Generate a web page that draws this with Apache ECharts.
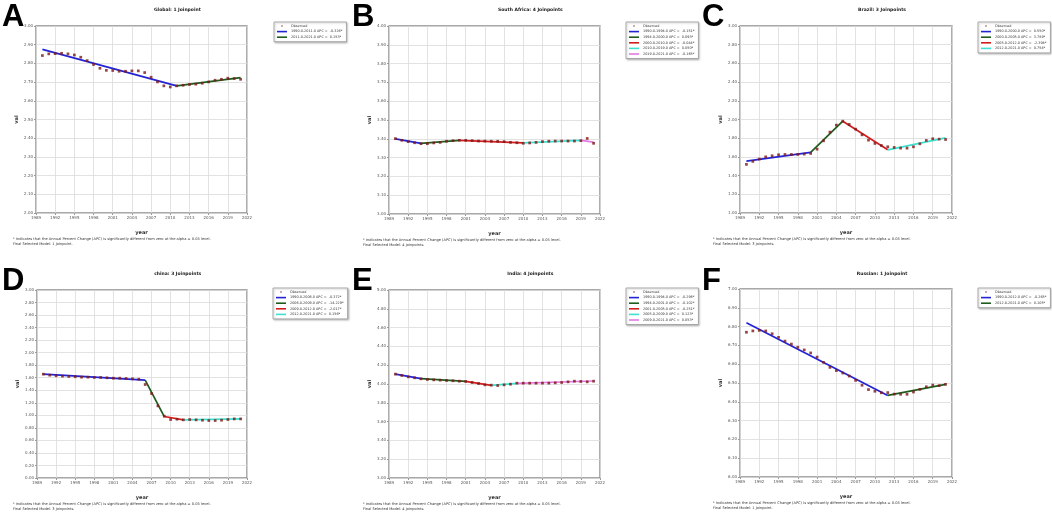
<!DOCTYPE html>
<html>
<head>
<meta charset="utf-8">
<script src="https://cdn.jsdelivr.net/npm/echarts@6/dist/echarts.min.js"></script>
<style>
  html, body { margin: 0; padding: 0; background: #fff; }
  #chart { width: 1052px; height: 519px; }
</style>
</head>
<body>
<div id="chart"></div>
<script>
// observed years, shared by all six panels
const years = [1990, 1991, 1992, 1993, 1994, 1995, 1996, 1997, 1998, 1999, 2000,
  2001, 2002, 2003, 2004, 2005, 2006, 2007, 2008, 2009, 2010,
  2011, 2012, 2013, 2014, 2015, 2016, 2017, 2018, 2019, 2020, 2021];

// A — Global
const globalObs = [2.842, 2.851, 2.852, 2.854, 2.851, 2.845, 2.833, 2.815, 2.794, 2.774, 2.763,
  2.762, 2.758, 2.758, 2.760, 2.760, 2.751, 2.726, 2.701, 2.680, 2.674,
  2.680, 2.683, 2.687, 2.689, 2.694, 2.701, 2.710, 2.715, 2.721, 2.719, 2.715];
const globalJoins = [1990, 2011, 2021];
const globalFit = [2.875, 2.680, 2.724];
const globalApc = ['-0.326*', '0.153*'];

// B — South Africa
const southAfricaObs = [3.401, 3.392, 3.385, 3.379, 3.374, 3.374, 3.378, 3.381, 3.387, 3.390, 3.392,
  3.392, 3.390, 3.388, 3.388, 3.387, 3.387, 3.385, 3.381, 3.379, 3.376,
  3.378, 3.381, 3.385, 3.387, 3.388, 3.388, 3.388, 3.388, 3.390, 3.402, 3.376];
const southAfricaJoins = [1990, 1994, 2000, 2010, 2019, 2021];
const southAfricaFit = [3.400, 3.376, 3.392, 3.378, 3.392, 3.382];
const southAfricaApc = ['-0.151*', '0.093*', '-0.044*', '0.050*', '-0.165*'];

// C — Brazil
const brazilObs = [1.520, 1.552, 1.577, 1.601, 1.612, 1.623, 1.626, 1.626, 1.626, 1.630, 1.637,
  1.683, 1.772, 1.865, 1.940, 1.982, 1.947, 1.897, 1.836, 1.779, 1.744,
  1.722, 1.708, 1.701, 1.694, 1.694, 1.708, 1.740, 1.776, 1.794, 1.790, 1.786];
const brazilJoins = [1990, 2000, 2005, 2012, 2021];
const brazilFit = [1.555, 1.648, 1.982, 1.676, 1.804];
const brazilApc = ['0.550*', '3.789*', '-2.394*', '0.754*'];

// D — China
const chinaObs = [1.657, 1.641, 1.631, 1.625, 1.620, 1.615, 1.609, 1.609, 1.604, 1.604, 1.599,
  1.593, 1.593, 1.588, 1.583, 1.577, 1.492, 1.348, 1.151, 0.986, 0.933,
  0.938, 0.928, 0.933, 0.928, 0.922, 0.917, 0.917, 0.922, 0.933, 0.943, 0.943];
const chinaJoins = [1990, 2006, 2009, 2012, 2021];
const chinaFit = [1.657, 1.562, 0.981, 0.928, 0.942];
const chinaApc = ['-0.372*', '-14.229*', '-2.017*', '0.156*'];

// E — India
const indiaObs = [4.105, 4.091, 4.076, 4.066, 4.055, 4.048, 4.044, 4.041, 4.037, 4.034, 4.030,
  4.027, 4.016, 4.005, 3.991, 3.988, 3.984, 3.991, 3.998, 4.009, 4.009,
  4.009, 4.009, 4.009, 4.009, 4.012, 4.016, 4.023, 4.030, 4.027, 4.023, 4.030];
const indiaJoins = [1990, 1994, 2001, 2005, 2009, 2021];
const indiaFit = [4.105, 4.057, 4.027, 3.986, 4.006, 4.032];
const indiaApc = ['-0.296*', '-0.102*', '-0.251*', '0.123*', '0.053*'];

// F — Russia
const russiaObs = [6.770, 6.777, 6.780, 6.777, 6.762, 6.743, 6.723, 6.707, 6.690, 6.676, 6.660,
  6.638, 6.610, 6.583, 6.566, 6.553, 6.537, 6.514, 6.488, 6.465, 6.456,
  6.448, 6.449, 6.441, 6.440, 6.440, 6.452, 6.466, 6.480, 6.489, 6.486, 6.493];
const russiaJoins = [1990, 2012, 2021];
const russiaFit = [6.821, 6.434, 6.493];
const russiaApc = ['-0.265*', '0.105*'];

// y axis ranges per panel
const yMins = [2, 3, 1, 0, 3, 6];
const yMaxs = [3, 4, 3, 3, 5, 7];
const ySteps = [0.1, 0.1, 0.2, 0.2, 0.2, 0.1];

const letters = ['A', 'B', 'C', 'D', 'E', 'F'];
const titles = ['Global: 1 Joinpoint', 'South Africa: 4 Joinpoints', 'Brazil: 3 Joinpoints',
  'china: 3 Joinpoints', 'India: 4 Joinpoints', 'Russian: 1 Joinpoint'];
const modelNotes = ['Final Selected Model: 1 Joinpoint.', 'Final Selected Model: 4 Joinpoints.',
  'Final Selected Model: 3 Joinpoints.', 'Final Selected Model: 3 Joinpoints.',
  'Final Selected Model: 4 Joinpoints.', 'Final Selected Model: 1 Joinpoint.'];
const footNote = '* Indicates that the Annual Percent Change (APC) is significantly different from zero at the alpha = 0.05 level.';

const panels = [
  { obs: globalObs, joins: globalJoins, fit: globalFit, apc: globalApc },
  { obs: southAfricaObs, joins: southAfricaJoins, fit: southAfricaFit, apc: southAfricaApc },
  { obs: brazilObs, joins: brazilJoins, fit: brazilFit, apc: brazilApc },
  { obs: chinaObs, joins: chinaJoins, fit: chinaFit, apc: chinaApc },
  { obs: indiaObs, joins: indiaJoins, fit: indiaFit, apc: indiaApc },
  { obs: russiaObs, joins: russiaJoins, fit: russiaFit, apc: russiaApc },
];

// layout (pixels): panel origins and plot boxes
const origins = [[0, 0], [350, 0], [700, 0], [0, 264], [350, 264], [700, 264]];
const plotBoxes = [
  { left: 36, top: 26, width: 211, height: 187 },
  { left: 389, top: 26, width: 211, height: 188 },
  { left: 740, top: 26, width: 212, height: 187 },
  { left: 37, top: 290, width: 210, height: 188 },
  { left: 389, top: 290, width: 211, height: 188 },
  { left: 740, top: 289, width: 212, height: 188 },
];
const legendPos = [[274, 22], [626, 22], [978, 22], [273, 288], [626, 288], [978, 288]];

const SEG_COLORS = ['#2323d6', '#1d5c1d', '#d31d1d', '#3fe0cf', '#e27ae2'];
const OBS_COLOR = '#7d1717';
const FONT = '"DejaVu Sans", Verdana, sans-serif';

const grid = [], xAxis = [], yAxis = [], series = [], legend = [], graphic = [];

panels.forEach((p, i) => {
  grid.push({
    ...plotBoxes[i], show: true, borderColor: '#8c8c8c', borderWidth: 1.4,
    backgroundColor: '#fff'
  });
  xAxis.push({
    type: 'value', gridIndex: i, min: 1989, max: 2022, interval: 3,
    name: 'year', nameLocation: 'middle', nameGap: 17,
    nameTextStyle: { fontSize: 5, fontWeight: 'bold', color: '#333', fontFamily: FONT },
    axisLine: { show: false }, axisTick: { show: true, length: 2, lineStyle: { color: '#999' } },
    axisLabel: { fontSize: 4, color: '#555', margin: 3, fontFamily: FONT, formatter: v => String(v) },
    splitLine: { show: true, lineStyle: { color: '#dadada', width: 0.8 } }
  });
  yAxis.push({
    type: 'value', gridIndex: i, min: yMins[i], max: yMaxs[i], interval: ySteps[i],
    name: 'val', nameLocation: 'middle', nameGap: 17,
    nameTextStyle: { fontSize: 5, fontWeight: 'bold', color: '#333', fontFamily: FONT },
    axisLine: { show: false }, axisTick: { show: true, length: 2, lineStyle: { color: '#999' } },
    axisLabel: { fontSize: 4, color: '#555', margin: 3, fontFamily: FONT, formatter: v => v.toFixed(2) },
    splitLine: { show: true, lineStyle: { color: '#dadada', width: 0.8 } }
  });

  const legendData = [{ name: 'Observed', icon: 'circle', itemStyle: { color: OBS_COLOR } }];
  for (let s = 0; s < p.apc.length; s++) {
    const y0 = p.joins[s], y1 = p.joins[s + 1];
    const name = `${y0.toFixed(1)}-${y1.toFixed(1)} APC =  ${p.apc[s]}`;
    series.push({
      type: 'line', name, xAxisIndex: i, yAxisIndex: i,
      data: [[y0, p.fit[s]], [y1, p.fit[s + 1]]],
      showSymbol: false, silent: true, z: 2,
      color: SEG_COLORS[s],
      lineStyle: { color: SEG_COLORS[s], width: 1.7 }
    });
    legendData.push({ name, icon: 'rect', itemStyle: { color: SEG_COLORS[s] } });
  }
  series.push({
    type: 'scatter', name: 'Observed', xAxisIndex: i, yAxisIndex: i,
    data: years.map((y, k) => [y, p.obs[k]]),
    symbol: 'rect', symbolSize: 2.7, z: 5, silent: true,
    itemStyle: { color: OBS_COLOR }
  });

  legend.push({
    left: legendPos[i][0], top: legendPos[i][1], orient: 'vertical',
    data: legendData, selectedMode: false,
    backgroundColor: '#fff', borderColor: '#9a9a9a', borderWidth: 0.8,
    shadowColor: 'rgba(0,0,0,0.25)', shadowBlur: 2, shadowOffsetX: 1, shadowOffsetY: 1,
    padding: [2.5, 4, 3, 3], itemWidth: 10, itemHeight: 1.6, itemGap: 2.6,
    textStyle: { fontSize: 3.4, color: '#333', fontFamily: FONT, padding: [0, 0, 0, -1] }
  });

  const [ox, oy] = origins[i];
  graphic.push(
    { type: 'text', x: ox + 2, y: oy + 2,
      style: { text: letters[i], fontSize: 31, fontWeight: 900, fontFamily: '"Liberation Sans", Arial, sans-serif', fill: '#000' } },
    { type: 'text', x: plotBoxes[i].left + plotBoxes[i].width * 0.67, y: oy + 10,
      style: { text: titles[i], fontSize: 4.5, fontWeight: 'bold', fontFamily: FONT, fill: '#222', align: 'center', verticalAlign: 'middle' } },
    { type: 'text', x: ox + 13, y: plotBoxes[i].top + plotBoxes[i].height + 24,
      style: { text: footNote + '\n' + modelNotes[i], fontSize: 3.6, lineHeight: 5, fontFamily: FONT, fill: '#333' } }
  );
});

const chart = echarts.init(document.getElementById('chart'), null, { renderer: 'canvas' });
chart.setOption({
  animation: false,
  backgroundColor: '#fff',
  grid, xAxis, yAxis, series, legend, graphic
});
</script>
</body>
</html>
